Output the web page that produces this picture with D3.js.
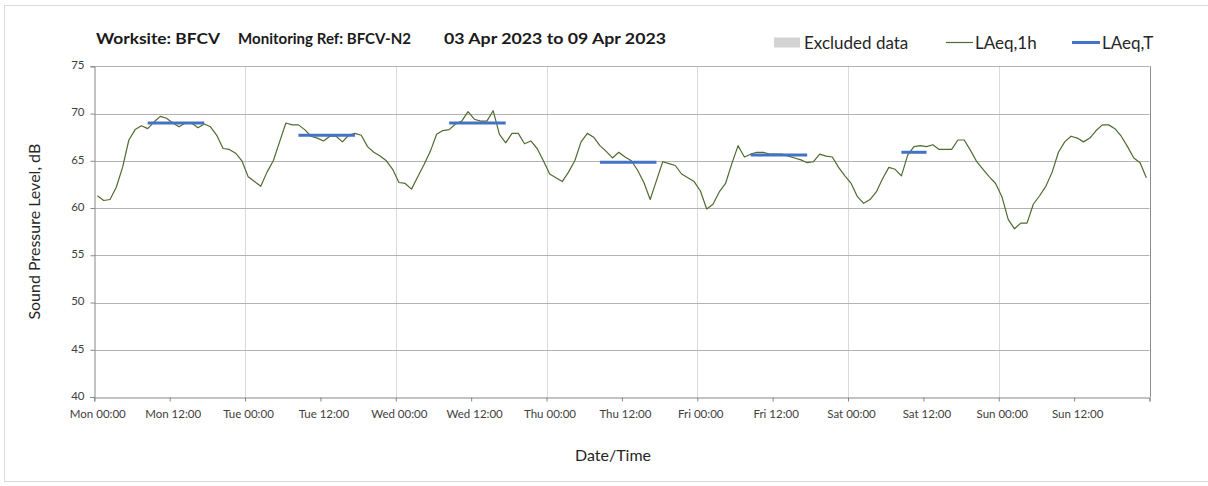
<!DOCTYPE html>
<html>
<head>
<meta charset="utf-8">
<script src="https://cdn.jsdelivr.net/npm/d3@7"></script>
<style>
  html, body { margin: 0; padding: 0; background: #ffffff; }
  svg { display: block; font-family: Lato, "Open Sans", sans-serif; }
</style>
</head>
<body>
<svg id="chart" width="1208" height="486"></svg>
<script>
// ---------------- DATA ----------------
// Hourly LAeq,1h (dB) per day, hours 00:00 .. 23:00
const mon = [61.3,60.8,60.9,62.2,64.3,67.2,68.3,68.7,68.4,69.1,69.7,69.5,69.0,68.6,69.0,69.0,68.5,68.9,68.6,67.7,66.3,66.2,65.8,65.0];
const tue = [63.3,62.8,62.3,63.8,65.0,67.0,69.0,68.8,68.8,68.3,67.6,67.4,67.1,67.6,67.6,67.0,67.7,67.9,67.7,66.5,65.9,65.5,65.0,64.1];
const wed = [62.7,62.6,62.0,63.3,64.6,66.0,67.8,68.2,68.3,68.9,69.2,70.2,69.4,69.2,69.2,70.3,67.8,66.9,67.9,67.9,66.8,67.1,66.3,65.0];
const thu = [63.6,63.2,62.8,63.8,65.0,67.0,67.9,67.5,66.6,66.0,65.3,65.9,65.4,65.0,64.0,62.7,60.9,62.9,64.9,64.7,64.5,63.6,63.2,62.8];
const fri = [61.8,59.9,60.4,61.7,62.6,64.7,66.6,65.4,65.7,65.9,65.9,65.7,65.7,65.7,65.5,65.3,65.1,64.8,64.9,65.7,65.5,65.4,64.3,63.4];
const sat = [62.6,61.2,60.5,60.9,61.7,63.1,64.3,64.1,63.4,65.6,66.5,66.6,66.5,66.7,66.2,66.2,66.2,67.2,67.2,66.1,64.9,64.1,63.3,62.6];
const sun = [61.2,58.8,57.8,58.4,58.4,60.4,61.3,62.3,63.8,65.9,67.0,67.6,67.4,67.0,67.4,68.2,68.8,68.8,68.4,67.6,66.5,65.3,64.8,63.2];

// LAeq,T periods: first and last hourly sample (hours from Mon 00:00) and level
const periodStart = [8, 32, 56, 80, 104, 128];
const periodEnd   = [17, 41, 65, 89, 113, 132];
const periodLevel = [69.0, 67.7, 69.0, 64.85, 65.6, 65.9];

// Axis ticks
const xTickHours  = [0,12,24,36,48,60,72,84,96,108,120,132,144,156,168];
const xTickLabels = ["Mon 00:00","Mon 12:00","Tue 00:00","Tue 12:00","Wed 00:00","Wed 12:00",
                     "Thu 00:00","Thu 12:00","Fri 00:00","Fri 12:00","Sat 00:00","Sat 12:00",
                     "Sun 00:00","Sun 12:00",""];
const yTicks = [40,45,50,55,60,65,70,75];

const titleParts = ["Worksite: BFCV", "Monitoring Ref: BFCV-N2", "03 Apr 2023 to 09 Apr 2023"];
const legendLabels = ["Excluded data", "LAeq,1h", "LAeq,T"];

// ---------------- BUILD ----------------
const hourly = [].concat(mon, tue, wed, thu, fri, sat, sun);
const series = hourly.map((v, i) => ({ h: i + 0.5, v }));
const periods = periodStart.map((s, k) => ({ s, e: periodEnd[k], v: periodLevel[k] }));

const svg = d3.select("#chart");
const X0 = 94.3, X1 = 1149.5, Y0 = 397, Y1 = 66.3;

const x = d3.scaleLinear().domain([0, 168]).range([X0, X1]);
const y = d3.scaleLinear().domain([40, 75]).range([Y0, Y1]);

// outer chart border
svg.append("rect")
  .attr("x", 4.5).attr("y", 5.5).attr("width", 1230).attr("height", 476)
  .attr("fill", "none").attr("stroke", "#d9d9d9").attr("stroke-width", 1);

// vertical day gridlines
svg.append("g").selectAll("line")
  .data(xTickHours.filter(h => h % 24 === 0 && h > 0 && h < 168))
  .join("line")
  .attr("x1", d => Math.round(x(d)) + 0.5).attr("x2", d => Math.round(x(d)) + 0.5)
  .attr("y1", Y1).attr("y2", Y0)
  .attr("stroke", "#d9d9d9").attr("stroke-width", 1);

// horizontal gridlines
svg.append("g").selectAll("line")
  .data(yTicks.filter(t => t > 40))
  .join("line")
  .attr("x1", X0).attr("x2", X1)
  .attr("y1", d => Math.round(y(d)) + 0.5).attr("y2", d => Math.round(y(d)) + 0.5)
  .attr("stroke", "#b3b3b3").attr("stroke-width", 1);

// right plot border
svg.append("line")
  .attr("x1", Math.round(X1) + 0.5).attr("x2", Math.round(X1) + 0.5)
  .attr("y1", Y1).attr("y2", Y0)
  .attr("stroke", "#8c8c8c");

// X axis
const xAxis = d3.axisBottom(x)
  .tickValues(xTickHours)
  .tickSize(4)
  .tickFormat((d, i) => xTickLabels[i]);
const gx = svg.append("g")
  .attr("transform", `translate(0,${Math.round(Y0) + 0.5})`)
  .call(xAxis);
gx.select(".domain").attr("stroke", "#868686");
gx.selectAll(".tick line").attr("stroke", "#868686");
gx.selectAll(".tick text")
  .attr("font-family", "Lato, sans-serif").attr("font-size", 11.5)
  .attr("fill", "#404040").attr("dy", "0.71em").attr("dx", 3).attr("y", 12);

// Y axis
const yAxis = d3.axisLeft(y).tickValues(yTicks).tickSize(4).tickPadding(6).tickFormat(d3.format("d"));
const gy = svg.append("g")
  .attr("transform", `translate(${Math.round(X0) + 0.5},0)`)
  .call(yAxis);
gy.select(".domain").attr("stroke", "#868686");
gy.selectAll(".tick line").attr("stroke", "#868686");
gy.selectAll(".tick text")
  .attr("font-family", "Lato, sans-serif").attr("font-size", 11.5).attr("fill", "#404040")
  .attr("dy", "0.2em");

// LAeq,1h line
svg.append("path")
  .datum(series)
  .attr("fill", "none")
  .attr("stroke", "#4f6b30")
  .attr("stroke-width", 1.2)
  .attr("stroke-linejoin", "round")
  .attr("d", d3.line().x(d => x(d.h)).y(d => y(d.v)));

// LAeq,T segments
svg.append("g").selectAll("line")
  .data(periods)
  .join("line")
  .attr("x1", d => x(d.s + 0.5)).attr("x2", d => x(d.e + 0.5))
  .attr("y1", d => y(d.v)).attr("y2", d => y(d.v))
  .attr("stroke", "#4472c4").attr("stroke-width", 3);

// Title
const titleX = [96, 238, 444];
const titleW = [124, 173, 222];
svg.append("g").selectAll("text")
  .data(titleParts)
  .join("text")
  .attr("x", (d, i) => titleX[i]).attr("y", 44)
  .attr("textLength", (d, i) => titleW[i]).attr("lengthAdjust", "spacingAndGlyphs")
  .attr("font-family", "Lato, sans-serif").attr("font-weight", "bold").attr("font-size", 15)
  .attr("fill", "#1a1a1a")
  .text(d => d);

// Legend
const lg = svg.append("g").attr("font-family", "Lato, sans-serif").attr("font-size", 17).attr("fill", "#262626");
lg.append("rect").attr("x", 774).attr("y", 37.5).attr("width", 26).attr("height", 10).attr("fill", "#d3d3d3");
lg.append("text").attr("x", 804).attr("y", 48.5).text(legendLabels[0]);
lg.append("line").attr("x1", 946).attr("x2", 973).attr("y1", 42.5).attr("y2", 42.5).attr("stroke", "#4f6b30").attr("stroke-width", 1.2);
lg.append("text").attr("x", 975).attr("y", 48.5).text(legendLabels[1]);
lg.append("line").attr("x1", 1072).attr("x2", 1100).attr("y1", 42.5).attr("y2", 42.5).attr("stroke", "#4472c4").attr("stroke-width", 3);
lg.append("text").attr("x", 1102).attr("y", 48.5).text(legendLabels[2]);

// Axis titles
svg.append("text")
  .attr("transform", `translate(40,${(Y0 + Y1) / 2}) rotate(-90)`)
  .attr("text-anchor", "middle")
  .attr("font-family", "Lato, sans-serif").attr("font-size", 16).attr("fill", "#262626")
  .text("Sound Pressure Level, dB");

svg.append("text")
  .attr("x", 613).attr("y", 461)
  .attr("text-anchor", "middle")
  .attr("font-family", "Lato, sans-serif").attr("font-size", 16).attr("fill", "#262626")
  .text("Date/Time");
</script>
</body>
</html>
